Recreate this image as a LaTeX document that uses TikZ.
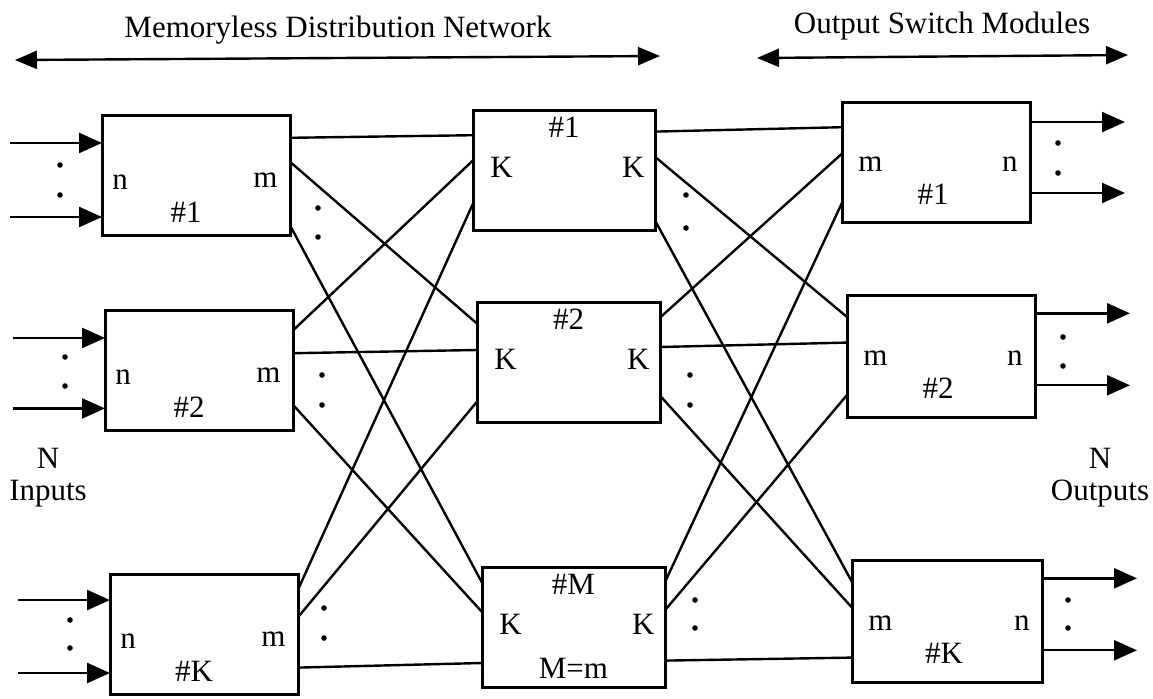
\documentclass[tikz,border=0pt]{standalone}
\usepackage{fontspec}
\setmainfont{Liberation Serif}
\usetikzlibrary{calc,arrows.meta}

\tikzset{
    module/.style={draw, line width=1.5pt, inner sep=0pt, outer sep=0pt, minimum height=60pt},
    link/.style={line width=1.2pt},
    io/.style={line width=1.2pt, -{Triangle[length=11.5pt,width=10pt]}},
    span/.style={line width=1.2pt, {Triangle[length=11pt,width=9pt]}-{Triangle[length=11pt,width=9pt]}},
    lbl/.style={inner sep=0pt, font=\fontsize{15.5}{16}\selectfont},
}

\begin{document}
\begin{tikzpicture}[x=0.5pt,y=-0.5pt]
    \useasboundingbox (0,0) rectangle (1153,698);

    % headings over the two halves
    \node[lbl] (memless) at (338,30) {Memoryless Distribution Network};
    \node[lbl] (outmods) at (942,26) {Output Switch Modules};
    \coordinate (mdl) at (15,60);
    \coordinate (mdr) at (660,56);
    \coordinate (osl) at (757,58);
    \coordinate (osr) at (1128,55);
    \draw[span] (mdl) -- (mdr);
    \draw[span] (osl) -- (osr);

    % input stage
    \node[module, minimum width=94pt] (L1) at (196,175) {};
    \node[module, minimum width=94pt] (L2) at (199,370) {};
    \node[module, minimum width=94pt] (LK) at (204,634) {};
    % middle stage
    \node[module, minimum width=91pt] (M1) at (564,170) {};
    \node[module, minimum width=91.5pt] (M2) at (568.5,362) {};
    \node[module, minimum width=91.5pt] (MM) at (573.5,627) {};
    % output stage
    \node[module, minimum width=94pt] (R1) at (936,162) {};
    \node[module, minimum width=94pt, minimum height=61pt] (R2) at (941,356) {};
    \node[module, minimum width=95pt, minimum height=61pt] (RK) at (947,621) {};

    \foreach \mod/\idx in {L1/1, L2/2, LK/K} {
        \node[lbl, anchor=west] (\mod-n) at ($(\mod.west)+(10,7)$) {n};
        \node[lbl, anchor=east] (\mod-m) at ($(\mod.east)+(-12,5)$) {m};
        \node[lbl] (\mod-id) at ($(\mod.center)+(-10,37)$) {\#\idx};
    }
    \foreach \mod/\idx in {M1/1, M2/2, MM/M} {
        \node[lbl, anchor=west] (\mod-kin) at ($(\mod.west)+(17,-3)$) {K};
        \node[lbl, anchor=east] (\mod-kout) at ($(\mod.east)+(-10,-3)$) {K};
        \node[lbl] (\mod-id) at ($(\mod.center)+(0,-43)$) {\#\idx};
    }
    \node[lbl] (MM-eq) at ($(MM.center)+(0,41)$) {M=m};
    \foreach \mod/\idx in {R1/1, R2/2, RK/K} {
        \node[lbl, anchor=west] (\mod-m) at ($(\mod.west)+(16,2)$) {m};
        \node[lbl, anchor=east] (\mod-n) at ($(\mod.east)+(-12,2)$) {n};
        \node[lbl] (\mod-id) at ($(\mod.center)+(-3,32)$) {\#\idx};
    }

    % every module feeds every module of the next stage
    \foreach \src/\fs/\dst/\fd in {L1/.19/M1/.21, L1/.39/M2/.18, L1/.92/MM/.13,
            L2/.17/M1/.42, L2/.36/M2/.40, L2/.79/MM/.375,
            LK/.13/M1/.78, LK/.36/M2/.83, LK/.78/MM/.80,
            M1/.18/R1/.21, M1/.39/R2/.18, M1/.92/RK/.18,
            M2/.13/R1/.43, M2/.375/R2/.39, M2/.78/RK/.39,
            MM/.125/R1/.84, MM/.36/R2/.82, MM/.78/RK/.80}
        \draw[link] ($(\src.north east)!\fs!(\src.south east)$) -- ($(\dst.north west)!\fd!(\dst.south west)$);

    % n inputs into each first stage module
    \foreach \mod/\fa/\fb in {L1/.233/.85, L2/.233/.82, LK/.217/.825} {
        \path ($(\mod.north west)!\fa!(\mod.south west)$) coordinate (\mod-a1) +(-92,0) coordinate (\mod-s1);
        \path ($(\mod.north west)!\fb!(\mod.south west)$) coordinate (\mod-a2) +(-92,0) coordinate (\mod-s2);
        \draw[io] (\mod-s1) -- (\mod-a1);
        \draw[io] (\mod-s2) -- (\mod-a2);
    }
    % n outputs from each output module
    \foreach \mod/\fa/\fb in {R1/.167/.758, R2/.15/.74, RK/.15/.74} {
        \path ($(\mod.north east)!\fa!(\mod.south east)$) coordinate (\mod-b1) +(95,0) coordinate (\mod-t1);
        \path ($(\mod.north east)!\fb!(\mod.south east)$) coordinate (\mod-b2) +(95,0) coordinate (\mod-t2);
        \draw[io] (\mod-b1) -- (\mod-t1);
        \draw[io] (\mod-b2) -- (\mod-t2);
    }

    % vertical ellipses
    \foreach \x/\y in {60/165, 60/195, 65/357, 65/386, 70/620, 70/648,
            318/208, 318/237, 322/375, 322/405, 324/608, 324/638,
            686/195, 686/228, 690/375, 690/405, 695/600, 695/628,
            1058/143, 1058/173, 1063/337, 1063/366, 1068/600, 1068/628}
        \fill (\x,\y) circle (1.4pt);

    \node[lbl, align=center] (ninputs) at (48,478) {N\\Inputs};
    \node[lbl, align=center] (noutputs) at (1100,478) {N\\Outputs};
\end{tikzpicture}
\end{document}
